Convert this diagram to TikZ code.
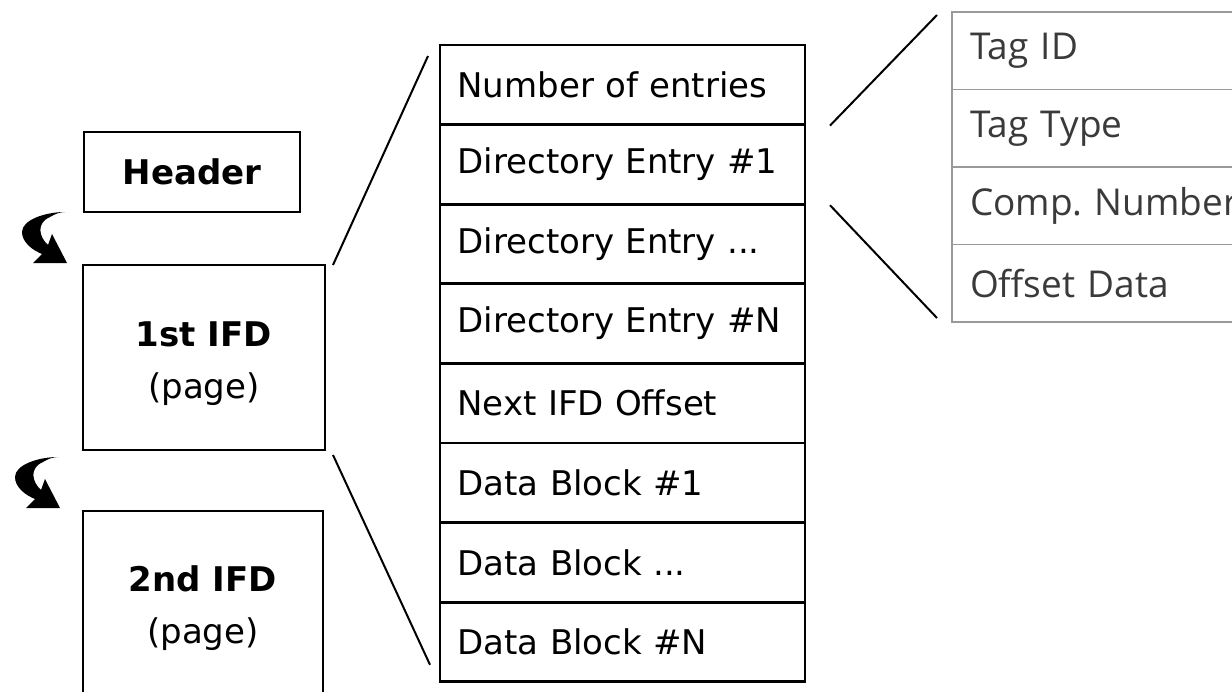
\documentclass[tikz,border=0pt]{standalone}
\usepackage{fontspec}
\setmainfont{DejaVu Sans}
\newfontfamily\tagfont{Open Sans}
\usetikzlibrary{positioning}
\definecolor{tabgris}{HTML}{9A9A9A}
\definecolor{textgris}{HTML}{3A3A3A}

\begin{document}
\frenchspacing
\begin{tikzpicture}[x=1pt, y=-1pt]
	\tikzset{boite/.style={rectangle, draw=black, line width=2.8pt, outer sep=0pt, align=center, font=\fontsize{34}{52}\selectfont},
		entree/.style={rectangle, draw=black, line width=2.8pt, outer sep=0pt, minimum height=79.6pt, text width=330pt, inner xsep=17.5pt, align=left, font=\fontsize{34}{40}\selectfont},
		champ/.style={rectangle, draw=tabgris, line width=1.8pt, outer sep=0pt, minimum height=77.5pt, text width=284pt, inner xsep=18pt, align=left, text=textgris, font=\tagfont\fontsize{37}{42}\selectfont},
		zoom/.style={line width=2pt},
		swoosh/.pic={\fill (21,-25) .. controls (1,-25) and (-22,-17) .. (-22,-5)
			.. controls (-22,5) and (-12,13) .. (-2,17) -- (-11,26) -- (23,26) -- (8,-3) -- (4,8)
			.. controls (-5,0) and (-8,-14) .. (6,-20) .. controls (11,-23) and (16,-25) .. (21,-25) -- cycle;}}

	\useasboundingbox (0,0) rectangle (1232,691);
	\clip (0,0) rectangle (1232,691);

	% fichier TIFF
	\node[boite, minimum width=216pt, minimum height=80pt] (hdr) at (192,172) {\bfseries Header};
	\node[boite, minimum width=242pt, minimum height=185pt] (ifd1) at (204,357.5) {\rule{0pt}{38pt}\bfseries 1st IFD\\(page)};
	\node[boite, minimum width=240pt, minimum height=184pt] (ifd2) at (203,603) {\rule{0pt}{36pt}\bfseries 2nd IFD\\(page)};

	\pic at (44,237) {swoosh};
	\pic at (37,482) {swoosh};

	% contenu d'un IFD
	\node[entree] (nent) at (622.5,84.8) {Number of entries};
	\node[entree, below=0pt of nent] (de1) {Directory Entry \#1};
	\node[entree, below=0pt of de1] (dedots) {Directory Entry ...};
	\node[entree, below=0pt of dedots] (deN) {Directory Entry \#N};
	\node[entree, below=0pt of deN] (nxt) {Next IFD Offset};
	\node[entree, below=0pt of nxt] (db1) {Data Block \#1};
	\node[entree, below=0pt of db1] (dbdots) {Data Block ...};
	\node[entree, below=0pt of dbdots] (dbN) {Data Block \#N};

	% contenu d'une entree
	\node[champ] (tid) at (1112,50.75) {Tag ID};
	\node[champ, below=0pt of tid] (ttype) {Tag Type};
	\node[champ, below=0pt of ttype] (comp) {Comp. Number};
	\node[champ, below=0pt of comp] (offs) {Offset Data};

	\draw[zoom] ([xshift=8pt]ifd1.north east) to ([xshift=-12pt, yshift=-11pt]nent.north west);
	\draw[zoom] ([xshift=8pt, yshift=-5pt]ifd1.south east) to ([xshift=-10pt, yshift=17pt]dbN.south west);
	\draw[zoom] ([xshift=25pt, yshift=-1pt]de1.north east) to ([xshift=-15pt, yshift=-3pt]tid.north west);
	\draw[zoom] ([xshift=25pt, yshift=-1pt]de1.south east) to ([xshift=-15pt, yshift=4pt]offs.south west);

\end{tikzpicture}
\end{document}
